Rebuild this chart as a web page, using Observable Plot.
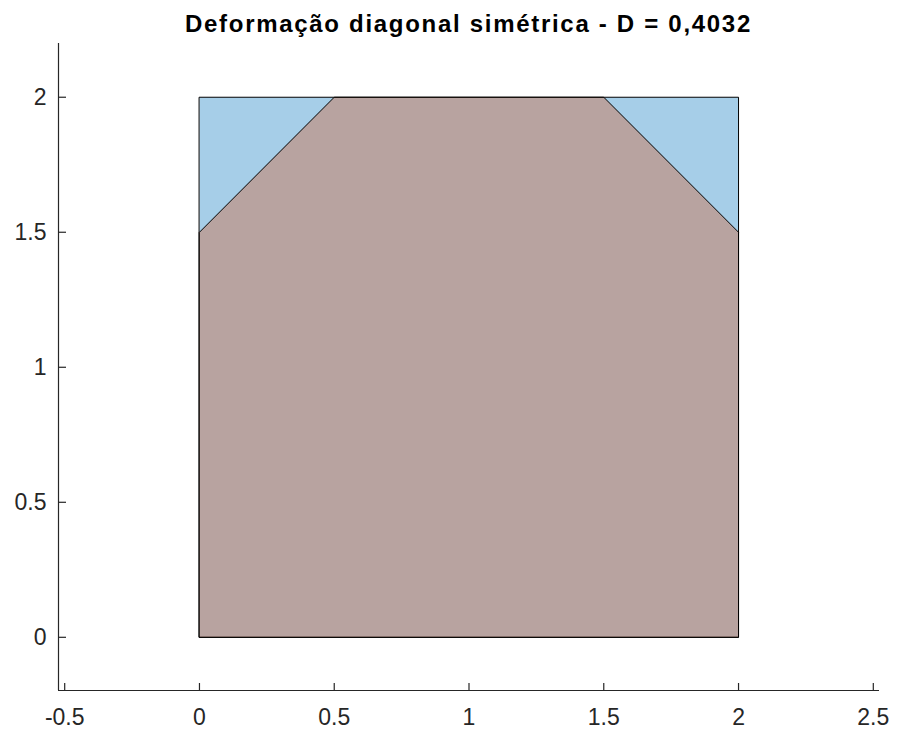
<!DOCTYPE html>
<html>
<head>
<meta charset="utf-8">
<script src="https://cdn.jsdelivr.net/npm/d3@7"></script>
<script src="https://cdn.jsdelivr.net/npm/@observablehq/plot@0.6"></script>
<style>
  html, body { margin: 0; padding: 0; background: #fff; }
  #title { width: 897px; height: 33px; box-sizing: border-box; padding-left: 40px; padding-top: 7px; text-align: center;
    font-family: "Liberation Sans", Arial, Helvetica, sans-serif; font-weight: bold; font-size: 24px;
    letter-spacing: 1.7px; color: #000; line-height: 33px; white-space: nowrap; }
</style>
</head>
<body>
<div id="title">Deformação diagonal simétrica - D = 0,4032</div>
<div id="chart"></div>
<script>
// Original square (blue) vertices
const squareX = [0, 2, 2, 0];
const squareY = [0, 0, 2, 2];
// Deformed polygon (orange, overlaid) vertices
const deformedX = [0, 2, 2, 1.5, 0.5, 0];
const deformedY = [0, 0, 1.5, 2, 2, 1.5];
// Axis ticks
const xTicks = [-0.5, 0, 0.5, 1, 1.5, 2, 2.5];
const yTicks = [0, 0.5, 1, 1.5, 2];
const xDomain = [-0.523, 2.523];
const yDomain = [-0.197, 2.199];

const square = squareX.map((x, i) => ({x, y: squareY[i]}));
const deformed = deformedX.map((x, i) => ({x, y: deformedY[i]}));

const W = 897, H = 702;
const mL = 58, mR = 18, mT = 10, mB = 45;
const frameW = W - mL - mR, frameH = H - mT - mB;
const ink = "#262626";

const plot = Plot.plot({
  width: W, height: H,
  marginLeft: mL, marginRight: mR, marginTop: mT, marginBottom: mB,
  style: {fontFamily: "'Liberation Sans', Arial, Helvetica, sans-serif", fontSize: "23px", color: ink, background: "#fff", overflow: "visible"},
  x: {domain: xDomain, label: null},
  y: {domain: yDomain, label: null},
  marks: [
    Plot.line(square, {x: "x", y: "y", fill: "#0072BD", fillOpacity: 0.35, stroke: "#000", strokeWidth: 1, curve: "linear-closed"}),
    Plot.line(deformed, {x: "x", y: "y", fill: "#D95319", fillOpacity: 0.35, stroke: "#000", strokeWidth: 1, curve: "linear-closed"}),
    // axis lines
    Plot.ruleX([xDomain[0]], {stroke: ink, strokeWidth: 1.2}),
    Plot.ruleY([yDomain[0]], {stroke: ink, strokeWidth: 1.2}),
    // inward ticks
    Plot.ruleX(xTicks, {x: d => d, insetTop: frameH - 7, stroke: ink, strokeWidth: 1.2}),
    Plot.ruleY(yTicks, {y: d => d, insetRight: frameW - 8, stroke: ink, strokeWidth: 1.2}),
    Plot.axisX({ticks: xTicks, tickSize: 0, tickPadding: 18, tickFormat: d => String(d), fontSize: 23, fill: ink, label: null}),
    Plot.axisY({ticks: yTicks, tickSize: 0, tickPadding: 12, tickFormat: d => String(d), fontSize: 23, fill: ink, label: null})
  ]
});
document.getElementById("chart").appendChild(plot);
</script>
</body>
</html>
